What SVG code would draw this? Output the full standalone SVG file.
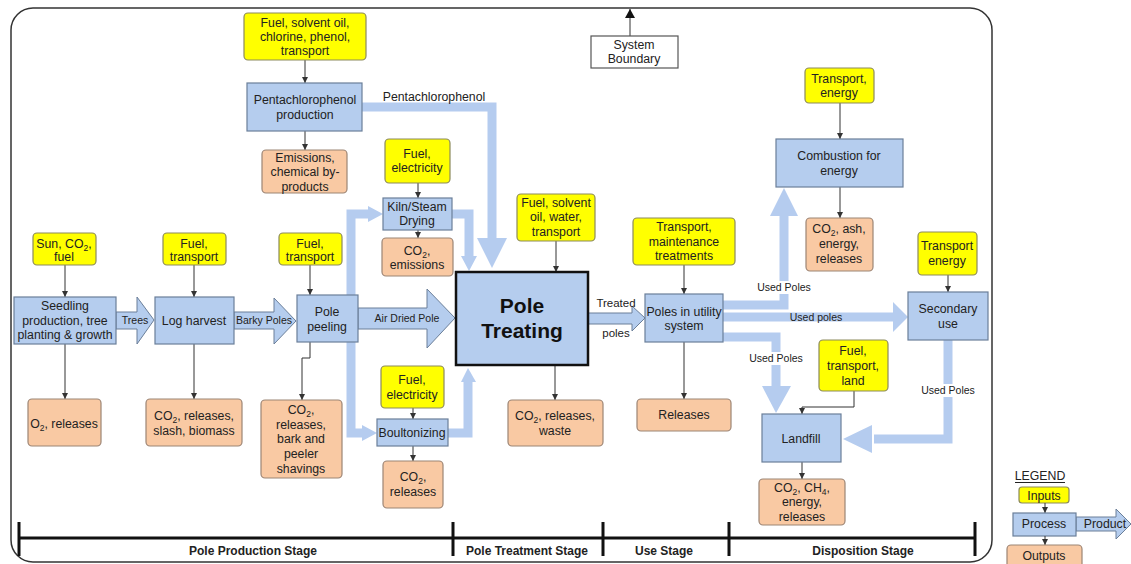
<svg xmlns="http://www.w3.org/2000/svg" width="1131" height="564" viewBox="0 0 1131 564">
<defs>
<style>
text{font-family:"Liberation Sans",Arial,sans-serif;font-size:12.3px;fill:#222;text-anchor:middle}
.in{fill:#ffff00;stroke:#8c8a5c;stroke-width:1.2}
.out{fill:#f9c9a3;stroke:#9c8575;stroke-width:1.2}
.pr{fill:#b5cdee;stroke:#6b7f99;stroke-width:1.2}
.ln{fill:none;stroke:#333;stroke-width:1}
.band{fill:none;stroke:#b5ccef;stroke-width:9}
.bh{fill:#b5ccef}
.fat{fill:#b5cdee;stroke:#6b7f99;stroke-width:1}
.lbl{font-size:10.5px}
.stg{font-weight:bold;font-size:12px}
.sub{font-size:8.5px}
</style>
<marker id="ah" markerUnits="userSpaceOnUse" markerWidth="6" markerHeight="6" refX="6" refY="3" orient="auto"><path d="M0,0 L6,3 L0,6 z" fill="#333"/></marker>
<marker id="ahb" markerUnits="userSpaceOnUse" markerWidth="9" markerHeight="10" refX="9" refY="5" orient="auto"><path d="M0,0 L9,5 L0,10 z" fill="#111"/></marker>
</defs>
<rect width="1131" height="564" fill="#fff"/>
<rect x="11" y="8" width="981" height="554" rx="22" fill="none" stroke="#333" stroke-width="1.5"/>
<g id="stages">
<path d="M19,538 H975 M19,522 V556 M453,522 V556 M603,522 V556 M729,522 V556 M975,522 V556" stroke="#111" stroke-width="3" fill="none"/>
<text class="stg" x="253" y="555">Pole Production Stage</text>
<text class="stg" x="527" y="555">Pole Treatment Stage</text>
<text class="stg" x="664" y="555">Use Stage</text>
<text class="stg" x="863" y="555">Disposition Stage</text>
</g>
<g id="connectors">
<path class="band" d="M362,107 H492 V250"/>
<polygon class="bh" points="477,238 507,238 492,268"/>
<path class="band" d="M452,214 H469 V258"/>
<polygon class="bh" points="461,256 477,256 469,271"/>
<path class="band" d="M370,214 H351 V433 H364"/>
<polygon class="bh" points="368,206 368,222 383,214"/>
<polygon class="bh" points="362,425 362,441 377,433"/>
<path class="band" d="M448,433 H468 V380"/>
<polygon class="bh" points="461,382 476,382 468,368"/>
<path class="band" d="M723,305 H784 V214"/>
<polygon class="bh" points="770,216 798,216 784,188"/>
<path class="band" d="M723,317 H895" stroke-width="10"/>
<polygon class="bh" points="893,302 893,332 908,317"/>
<path class="band" d="M723,337 H776 V388"/>
<polygon class="bh" points="762,386 791,386 776,413"/>
<path class="band" d="M948,340 V439 H874"/>
<polygon class="bh" points="872,425 872,453 843,439"/>
<text x="434" y="101" style="font-size:12.3px">Pentachlorophenol</text>
<rect x="757" y="281" width="54" height="13" fill="#fff"/>
<text class="lbl" x="784" y="291">Used Poles</text>
<text class="lbl" x="816" y="321">Used poles</text>
<rect x="749" y="352" width="54" height="13" fill="#fff"/>
<text class="lbl" x="776" y="362">Used Poles</text>
<rect x="921" y="384" width="54" height="13" fill="#fff"/>
<text class="lbl" x="948" y="394">Used Poles</text>
<polygon class="fat" points="116,312 137,312 137,297 154,320 137,344 137,329 116,329"/>
<text class="lbl" x="135" y="324">Trees</text>
<polygon class="fat" points="234,312 274,312 274,298 296,321 274,344 274,329 234,329"/>
<text class="lbl" x="264" y="324">Barky Poles</text>
<polygon class="fat" points="358,308 427,308 427,289 455,318 427,348 427,329 358,329"/>
<text class="lbl" x="407" y="322">Air Dried Pole</text>
<polygon class="fat" points="588,313 632,313 632,306 645,318 632,331 632,324 588,324"/>
<text x="616" y="307" style="font-size:11.5px">Treated</text>
<text x="616" y="337" style="font-size:11.5px">poles</text>
<path class="ln" marker-end="url(#ah)" d="M305,60 V83"/>
<path class="ln" marker-end="url(#ah)" d="M305,131 V150"/>
<path class="ln" marker-end="url(#ah)" d="M418,183 V198"/>
<path class="ln" marker-end="url(#ah)" d="M418,230 V238"/>
<path class="ln" marker-end="url(#ah)" d="M65,265 V297"/>
<path class="ln" marker-end="url(#ah)" d="M194,265 V297"/>
<path class="ln" marker-end="url(#ah)" d="M310,265 V295"/>
<path class="ln" marker-end="url(#ah)" d="M65,344 V399"/>
<path class="ln" marker-end="url(#ah)" d="M194,344 V399"/>
<path class="ln" marker-end="url(#ah)" d="M310,342 V358 H302 V400"/>
<path class="ln" marker-end="url(#ah)" d="M413,408 V419"/>
<path class="ln" marker-end="url(#ah)" d="M413,446 V461"/>
<path class="ln" marker-end="url(#ah)" d="M556,241 V272"/>
<path class="ln" marker-end="url(#ah)" d="M555,365 V400"/>
<path class="ln" marker-end="url(#ah)" d="M684,265 V294"/>
<path class="ln" marker-end="url(#ah)" d="M684,342 V399"/>
<path class="ln" marker-end="url(#ah)" d="M840,103 V139"/>
<path class="ln" marker-end="url(#ah)" d="M840,187 V218"/>
<path class="ln" marker-end="url(#ah)" d="M948,275 V292"/>
<path class="ln" marker-end="url(#ah)" d="M854,391 V407 H802 V414"/>
<path class="ln" marker-end="url(#ah)" d="M802,462 V479"/>
<path class="ln" marker-end="url(#ahb)" d="M630,36 V9"/>
</g>
<g id="n_sysb"><rect x="591" y="36" width="87" height="32" fill="#fff" stroke="#555" stroke-width="1.2"/><text x="634" y="48.5">System</text><text x="634" y="62.5">Boundary</text></g>
<g id="n_in_pcp"><rect class="in" x="244" y="13" width="122" height="47" rx="4"/><text x="305" y="26.5">Fuel, solvent oil,</text><text x="305" y="40.5">chlorine, phenol,</text><text x="305" y="55">transport</text></g>
<g id="n_pcp"><rect class="pr" x="247" y="83" width="115" height="48"/><text x="305" y="103.5">Pentachlorophenol</text><text x="305" y="118.5">production</text></g>
<g id="n_out_pcp"><rect class="out" x="262" y="150" width="85" height="43" rx="4"/><text x="305" y="161.5">Emissions,</text><text x="305" y="176">chemical by-</text><text x="305" y="190.5">products</text></g>
<g id="n_in_kiln"><rect class="in" x="385" y="139" width="65" height="44" rx="4"/><text x="417" y="157.5">Fuel,</text><text x="417" y="171.5">electricity</text></g>
<g id="n_kiln"><rect class="pr" x="383" y="198" width="69" height="32"/><text x="417" y="210.5">Kiln/Steam</text><text x="417" y="225">Drying</text></g>
<g id="n_out_kiln"><rect class="out" x="382" y="238" width="71" height="38" rx="4"/><text x="417" y="255">CO<tspan class="sub" dy="3">2</tspan><tspan dy="-3">,</tspan></text><text x="417" y="269">emissions</text></g>
<g id="n_in_seed"><rect class="in" x="33" y="233" width="63" height="32" rx="4"/><text x="64" y="247.5">Sun, CO<tspan class="sub" dy="3">2</tspan><tspan dy="-3">,</tspan></text><text x="64" y="260.5">fuel</text></g>
<g id="n_in_log"><rect class="in" x="163" y="233" width="63" height="32" rx="4"/><text x="194" y="247.5">Fuel,</text><text x="194" y="260.5">transport</text></g>
<g id="n_in_peel"><rect class="in" x="279" y="233" width="63" height="32" rx="4"/><text x="310" y="247.5">Fuel,</text><text x="310" y="260.5">transport</text></g>
<g id="n_seed"><rect class="pr" x="14" y="297" width="102" height="47"/><text x="65" y="309.5">Seedling</text><text x="65" y="324.5">production, tree</text><text x="65" y="339">planting &amp; growth</text></g>
<g id="n_log"><rect class="pr" x="155" y="297" width="79" height="47"/><text x="194" y="324.5">Log harvest</text></g>
<g id="n_peel"><rect class="pr" x="297" y="295" width="61" height="47"/><text x="327" y="315.5">Pole</text><text x="327" y="330.5">peeling</text></g>
<g id="n_treat"><rect x="456" y="272" width="132" height="93" fill="#b5cdee" stroke="#111" stroke-width="2.5"/><text x="522" y="313" style="font-size:21px;font-weight:bold;fill:#111">Pole</text><text x="522" y="338" style="font-size:21px;font-weight:bold;fill:#111">Treating</text></g>
<g id="n_out_seed"><rect class="out" x="28" y="399" width="73" height="47" rx="4"/><text x="64" y="427.5">O<tspan class="sub" dy="3">2</tspan><tspan dy="-3">, releases</tspan></text></g>
<g id="n_out_log"><rect class="out" x="146" y="399" width="96" height="47" rx="4"/><text x="194" y="419.5">CO<tspan class="sub" dy="3">2</tspan><tspan dy="-3">, releases,</tspan></text><text x="194" y="434.5">slash, biomass</text></g>
<g id="n_out_peel"><rect class="out" x="261" y="400" width="81" height="78" rx="4"/><text x="301" y="413.5">CO<tspan class="sub" dy="3">2</tspan><tspan dy="-3">,</tspan></text><text x="301" y="428.5">releases,</text><text x="301" y="443">bark and</text><text x="301" y="457.5">peeler</text><text x="301" y="472.5">shavings</text></g>
<g id="n_in_boult"><rect class="in" x="381" y="366" width="63" height="42" rx="4"/><text x="412" y="383.5">Fuel,</text><text x="412" y="398.5">electricity</text></g>
<g id="n_boult"><rect class="pr" x="377" y="419" width="71" height="27"/><text x="412" y="437">Boultonizing</text></g>
<g id="n_out_boult"><rect class="out" x="383" y="461" width="60" height="47" rx="4"/><text x="413" y="480.5">CO<tspan class="sub" dy="3">2</tspan><tspan dy="-3">,</tspan></text><text x="413" y="496">releases</text></g>
<g id="n_in_treat"><rect class="in" x="517" y="194" width="78" height="47" rx="4"/><text x="556" y="206.5">Fuel, solvent</text><text x="556" y="221">oil, water,</text><text x="556" y="236">transport</text></g>
<g id="n_out_treat"><rect class="out" x="508" y="400" width="95" height="46" rx="4"/><text x="555" y="420">CO<tspan class="sub" dy="3">2</tspan><tspan dy="-3">, releases,</tspan></text><text x="555" y="434.5">waste</text></g>
<g id="n_in_use"><rect class="in" x="633" y="218" width="102" height="47" rx="4"/><text x="684" y="231">Transport,</text><text x="684" y="245.5">maintenance</text><text x="684" y="259.5">treatments</text></g>
<g id="n_use"><rect class="pr" x="645" y="294" width="78" height="48"/><text x="684" y="315.5">Poles in utility</text><text x="684" y="329.5">system</text></g>
<g id="n_out_use"><rect class="out" x="637" y="399" width="94" height="32" rx="4"/><text x="684" y="418.5">Releases</text></g>
<g id="n_in_comb"><rect class="in" x="805" y="68" width="69" height="35" rx="4"/><text x="839" y="82.5">Transport,</text><text x="839" y="97">energy</text></g>
<g id="n_comb"><rect class="pr" x="776" y="139" width="127" height="48"/><text x="839" y="159.5">Combustion for</text><text x="839" y="174.5">energy</text></g>
<g id="n_out_comb"><rect class="out" x="806" y="218" width="67" height="53" rx="4"/><text x="839" y="233">CO<tspan class="sub" dy="3">2</tspan><tspan dy="-3">, ash,</tspan></text><text x="839" y="248">energy,</text><text x="839" y="262.5">releases</text></g>
<g id="n_in_sec"><rect class="in" x="918" y="232" width="59" height="43" rx="4"/><text x="947" y="249.5">Transport</text><text x="947" y="264.5">energy</text></g>
<g id="n_sec"><rect class="pr" x="908" y="292" width="80" height="48"/><text x="948" y="312.5">Secondary</text><text x="948" y="327.5">use</text></g>
<g id="n_in_land"><rect class="in" x="819" y="340" width="69" height="51" rx="4"/><text x="853" y="355">Fuel,</text><text x="853" y="369.5">transport,</text><text x="853" y="384.5">land</text></g>
<g id="n_land"><rect class="pr" x="762" y="414" width="79" height="48"/><text x="801" y="442.5">Landfill</text></g>
<g id="n_out_land"><rect class="out" x="759" y="479" width="86" height="46" rx="4"/><text x="802" y="491.5">CO<tspan class="sub" dy="3">2</tspan><tspan dy="-3">, CH</tspan><tspan class="sub" dy="3">4</tspan><tspan dy="-3">,</tspan></text><text x="802" y="506">energy,</text><text x="802" y="520.5">releases</text></g>
<g id="legend">
<text x="1040" y="480">LEGEND</text>
<path d="M1015,482.5 H1065" stroke="#222" stroke-width="1"/>
<rect class="in" x="1019" y="487" width="50" height="16" rx="3"/><text x="1044" y="500">Inputs</text>
<path class="ln" marker-end="url(#ah)" d="M1045,503 V513"/>
<polygon class="fat" points="1076,517 1116,517 1116,509 1131,524 1116,539 1116,531 1076,531"/>
<text x="1105" y="528">Product</text>
<rect class="pr" x="1013" y="513" width="63" height="23"/><text x="1044" y="528">Process</text>
<path class="ln" marker-end="url(#ah)" d="M1045,536 V545"/>
<rect class="out" x="1007" y="545" width="75" height="25" rx="4"/><text x="1044" y="560">Outputs</text>
</g>
</svg>
